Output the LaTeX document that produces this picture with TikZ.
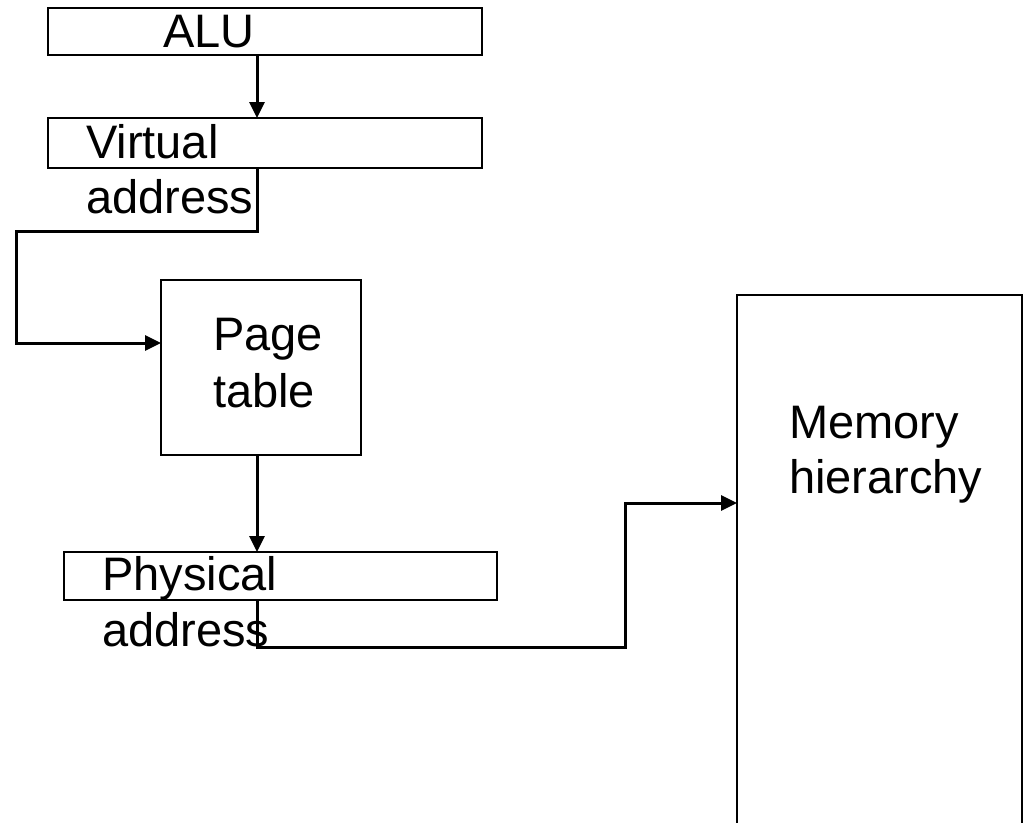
\documentclass[tikz,border=0pt]{standalone}
\usepackage{fontspec}
\setmainfont{Liberation Sans}
\usetikzlibrary{arrows.meta}
\begin{document}
\begin{tikzpicture}[x=1pt,y=-1pt,
  box/.style={draw=black, line width=2.2pt, rectangle, inner sep=0pt, outer sep=0pt},
  lbl/.style={anchor=base west, inner sep=0pt, font=\fontsize{47}{56}\selectfont},
  conn/.style={draw=black, line width=3pt},
  arr/.style={conn, -{Triangle[length=16pt,width=15pt]}}]
\clip (0,0) rectangle (1025,822);
% boxes
\node[box, minimum width=434pt, minimum height=47pt] (alu)  at (265,31.5) {};
\node[box, minimum width=434pt, minimum height=50pt] (virt) at (265,143) {};
\node[box, minimum width=200pt, minimum height=175pt] (page) at (261,367.5) {};
\node[box, minimum width=433pt, minimum height=48pt] (phys) at (280.5,576) {};
\node[box, minimum width=285pt, minimum height=545pt] (mem)  at (879.5,567.5) {};
% labels
\node[lbl] (alut)   at (163,47)  {ALU};
\node[lbl] (virta)  at (86,158)  {Virtual};
\node[lbl] (virtb)  at (86,213)  {address};
\node[lbl] (pagea)  at (213,350) {Page};
\node[lbl] (pageb)  at (213,407) {table};
\node[lbl] (physa)  at (102,590) {Physical};
\node[lbl] (physb)  at (102,646) {address};
\node[lbl] (mema)   at (789,438) {Memory};
\node[lbl] (memb)   at (789,493) {hierarchy};
% bend points of the connectors
\coordinate (v1) at (16,231);
\coordinate (p1) at (625,647);
% connectors
\draw[arr] ([xshift=-8pt]alu.south) -- ([xshift=-8pt]virt.north);
\draw[arr] ([xshift=-8pt]virt.south) |- (v1) |- ([yshift=24.5pt]page.west);
\draw[arr] ([xshift=-4pt]page.south) -- ([xshift=-23.5pt]phys.north);
\draw[arr] ([xshift=-23.5pt]phys.south) |- (p1) |- (mem.west |- 0,503);
\end{tikzpicture}
\end{document}
